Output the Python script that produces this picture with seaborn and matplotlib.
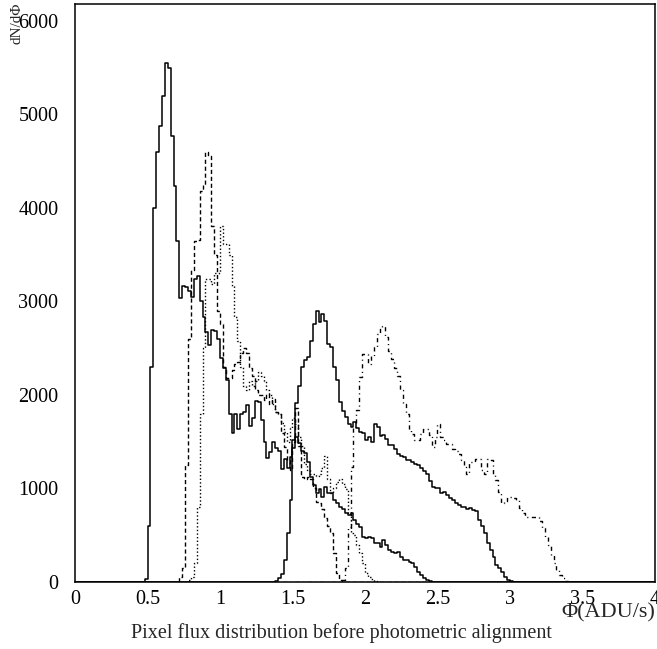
import numpy as np
import pandas as pd
import matplotlib
matplotlib.use("Agg")
import matplotlib.pyplot as plt
import seaborn as sns
from matplotlib.ticker import MultipleLocator, FixedLocator, FixedFormatter

# ---------------- data (bin contents, bin width 0.02 in flux) ----------------
bin_width = 0.02
flux_min, flux_max = 0.0, 4.0

solid_a_start = 0.48
solid_a = [30, 600, 2300, 4000, 4600, 4880, 5200, 5550, 5500, 4770,
           4236, 3650, 3040, 3170, 3150, 3115, 3044, 3240, 3275, 3000,
           2830, 2670, 2530, 2690, 2680, 2600, 2400, 2283, 2155, 1800,
           1590, 1800, 1640, 1800, 1817, 1890, 1665, 1750, 1940, 1920,
           1730, 1500, 1330, 1390, 1500, 1430, 1400, 1205, 1310, 1220,
           1340, 1430, 1550, 1488, 1400, 1380, 1283, 1123, 1034, 950,
           990, 910, 1017, 950, 950, 875, 840, 803, 780, 733,
           720, 740, 662, 620, 590, 483, 475, 480, 470, 416,
           416, 377, 448, 400, 340, 323, 315, 323, 270, 240,
           235, 215, 200, 163, 110, 75, 39, 21, 10, 4]

dashed_start = 0.72
dashed = [50, 150, 1250, 2600, 3340, 3650, 3660, 4180, 4250, 4600,
          4550, 3810, 3500, 2900, 2763, 2300, 2180, 2176, 2262, 2333,
          2350, 2450, 2497, 2450, 2283, 2200, 2049, 2000, 2000, 1950,
          2010, 1900, 1960, 1817, 1800, 1590, 1440, 1300, 1195, 1500,
          1856, 1450, 1124, 1100, 1124, 1100, 1000, 857, 840, 780,
          680, 600, 520, 306, 95, 20, 5]

dotted_start = 0.78
dotted = [20, 50, 200, 800, 1800, 2500, 3240, 3240, 3190, 3300,
          3300, 3810, 3617, 3617, 3500, 3170, 2830, 2582, 2300, 2100,
          2050, 2150, 2100, 2150, 2250, 2200, 2150, 2049, 2000, 1900,
          1817, 1800, 1700, 1600, 1500, 1650, 1750, 1690, 1550, 1450,
          1266, 1200, 1150, 1160, 1130, 1150, 1215, 1350, 1100, 950,
          1000, 1070, 1100, 1050, 990, 733, 520, 500, 400, 309,
          200, 100, 57, 30, 10]

solid_b_start = 1.38
solid_b = [10, 40, 90, 235, 520, 875, 1515, 1910, 2100, 2297,
           2370, 2404, 2582, 2763, 2902, 2780, 2870, 2795, 2547, 2510,
           2297, 2155, 1924, 1830, 1764, 1693, 1660, 1710, 1650, 1604,
           1590, 1515, 1550, 1500, 1693, 1660, 1560, 1570, 1530, 1462,
           1470, 1420, 1373, 1350, 1340, 1302, 1300, 1280, 1260, 1250,
           1216, 1190, 1150, 1080, 1017, 1000, 1005, 950, 960, 930,
           900, 875, 850, 820, 803, 800, 780, 790, 770, 760,
           660, 600, 520, 420, 341, 270, 181, 150, 110, 57,
           25, 10, 5]

dashdot_start = 1.84
dashdot = [20, 150, 590, 1230, 1650, 1835, 2190, 2440, 2440, 2333,
           2420, 2510, 2653, 2724, 2740, 2617, 2475, 2380, 2283, 2200,
           2049, 1900, 1800, 1622, 1580, 1515, 1515, 1580, 1640, 1640,
           1570, 1444, 1550, 1693, 1550, 1515, 1480, 1480, 1426, 1400,
           1373, 1300, 1230, 1160, 1283, 1283, 1320, 1320, 1200, 1150,
           1320, 1300, 1150, 1088, 963, 850, 870, 910, 910, 896,
           880, 790, 733, 700, 700, 700, 700, 697, 650, 576,
           483, 395, 288, 200, 128, 80, 43, 15, 5]

x_tick_values = [0, 0.5, 1, 1.5, 2, 2.5, 3, 3.5, 4]
x_tick_labels = ["0", "0.5", "1", "1.5", "2", "2.5", "3", "3.5", "4"]
y_tick_values = [0, 1000, 2000, 3000, 4000, 5000, 6000]
y_tick_labels = ["0", "1000", "2000", "3000", "4000", "5000", "6000"]

x_label = "Φ(ADU/s)"
y_label = "dN/dΦ"
caption = "Pixel flux distribution before photometric alignment"

# ---------------- plotting ----------------
sns.set_style("white")
plt.rcParams["font.family"] = ["Liberation Serif", "DejaVu Serif"]

W, H = 657, 649
fig = plt.figure(figsize=(W / 100, H / 100), dpi=100)
ax = fig.add_axes([75 / W, 1 - 582 / H, 580 / W, 578 / H])

n_bins = int(round((flux_max - flux_min) / bin_width))

styles = [
    (solid_a_start, solid_a, "-", 1.1),
    (dashed_start, dashed, (0, (3.0, 2.0)), 1.0),
    (dotted_start, dotted, (0, (1.0, 1.6)), 1.0),
    (solid_b_start, solid_b, "-", 1.1),
    (dashdot_start, dashdot, (0, (3.0, 2.5, 0.8, 2.5)), 1.0),
]

for start, values, ls, lw in styles:
    vals = np.asarray(values, dtype=float)
    centers = start + bin_width / 2 + bin_width * np.arange(len(vals))
    df = pd.DataFrame({"flux": centers, "count": vals})
    sns.histplot(data=df, x="flux", weights="count", bins=n_bins,
                 binrange=(flux_min, flux_max), element="step", fill=False,
                 color="black", linewidth=lw, linestyle=ls, ax=ax)

ax.set_xlim(flux_min, flux_max)
ax.set_ylim(0, 6180)

ax.xaxis.set_major_locator(FixedLocator(x_tick_values))
ax.xaxis.set_major_formatter(FixedFormatter(x_tick_labels))
ax.xaxis.set_minor_locator(MultipleLocator(0.1))
ax.yaxis.set_major_locator(FixedLocator(y_tick_values))
ax.yaxis.set_major_formatter(FixedFormatter(y_tick_labels))
ax.yaxis.set_minor_locator(MultipleLocator(200))

ax.tick_params(axis="both", which="major", direction="in", length=8, width=0.9,
               labelsize=14.5, colors="black", top=False, right=False)
ax.tick_params(axis="both", which="minor", direction="in", length=4, width=0.9,
               top=False, right=False)
ax.tick_params(axis="y", which="major", pad=12)
ax.tick_params(axis="x", which="major", pad=6)

for side in ["left", "bottom", "top", "right"]:
    ax.spines[side].set_visible(True)
    ax.spines[side].set_color("black")
    ax.spines[side].set_linewidth(1.1)

ax.set_xlabel(x_label, fontsize=16, ha="right", va="top")
ax.xaxis.set_label_coords(1.0, -0.036)
ax.set_ylabel(y_label, fontsize=11, ha="right")
ax.yaxis.set_label_coords(-0.088, 1.003)

fig.text(341 / W, 1 - 633 / H, caption, fontsize=14.5, ha="center", va="center")

fig.savefig("out.png", dpi=100, facecolor="white")
